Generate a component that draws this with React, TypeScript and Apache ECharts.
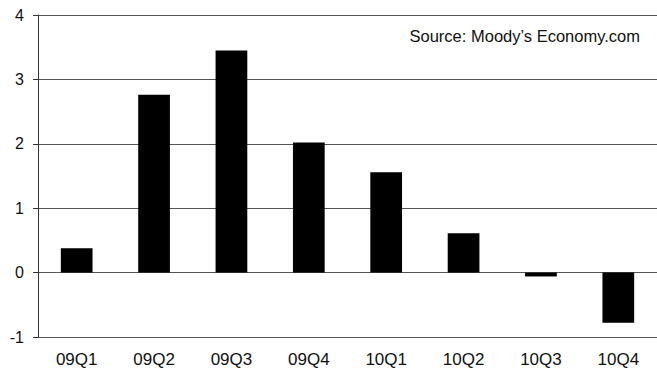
import React, { useEffect, useRef } from "react";
import * as echarts from "echarts";

const quarters = ["09Q1", "09Q2", "09Q3", "09Q4", "10Q1", "10Q2", "10Q3", "10Q4"];
const values = [0.38, 2.76, 3.45, 2.02, 1.56, 0.61, -0.06, -0.78];
const yTicks = { min: -1, max: 4, interval: 1 };
const sourceNote = "Source: Moody\u2019s Economy.com";

export default function App() {
  const ref = useRef<HTMLDivElement>(null);

  useEffect(() => {
    if (!ref.current) return;
    const chart = echarts.init(ref.current, null, { renderer: "svg" });
    const font = "Arial, 'Liberation Sans', sans-serif";
    chart.setOption({
      animation: false,
      backgroundColor: "#ffffff",
      grid: { left: 38, right: 0, top: 15, bottom: 31, outerBoundsMode: "none" },
      xAxis: {
        type: "category",
        data: quarters,
        axisLine: { show: false },
        axisTick: { show: false },
        axisLabel: { color: "#111", fontSize: 17, fontFamily: font, margin: 14 },
      },
      yAxis: {
        type: "value",
        min: yTicks.min,
        max: yTicks.max,
        interval: yTicks.interval,
        axisLine: { show: true, lineStyle: { color: "#333", width: 1 } },
        axisTick: { show: true, length: 5, lineStyle: { color: "#333" } },
        axisLabel: { color: "#111", fontSize: 16, fontFamily: font, margin: 14 },
        splitLine: { show: true, lineStyle: { color: "#555", width: 1 } },
      },
      graphic: [
        {
          type: "text",
          right: 17,
          top: 27,
          style: { text: sourceNote, fill: "#111", fontSize: 16.5, fontFamily: font },
        },
      ],
      series: [
        {
          type: "bar",
          data: values,
          barWidth: "41%",
          itemStyle: { color: "#000000" },
        },
      ],
    });
    return () => chart.dispose();
  }, []);

  return (
    <div
      ref={ref}
      style={{ position: "fixed", left: 0, top: 0, width: 657, height: 368 }}
    />
  );
}
